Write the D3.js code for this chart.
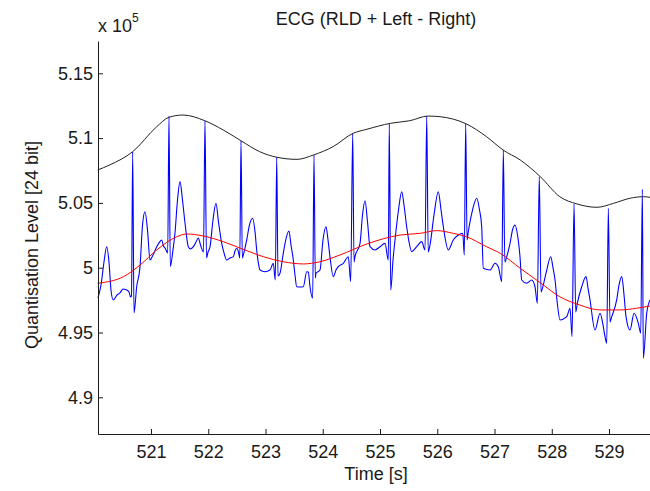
<!DOCTYPE html>
<html>
<head>
<meta charset="utf-8">
<script src="https://cdn.jsdelivr.net/npm/d3@7"></script>
<style>
  body { margin: 0; background: #fff; }
  svg text { font-family: "Liberation Sans", Arial, sans-serif; fill: #1a1a1a; }
</style>
</head>
<body>
<div id="chart"></div>
<script>
// ECG samples: [time (s), quantisation level]
const ecgSamples = [
  [520.074,497660],[520.127,498670],[520.179,500440],[520.226,501620],[520.266,500440],[520.301,498280],[520.341,497510],[520.406,497890],[520.458,498050],[520.511,498360],[520.576,498280],[520.616,498130],[520.642,497740],[520.659,497820],
  [520.680,508950],[520.703,496510],[520.750,498530],[520.808,500080],[520.852,503300],[520.895,504320],[520.939,502910],[520.983,500590],[521.035,500980],[521.100,501620],[521.140,501910],[521.187,502140],[521.218,501680],[521.245,501520],[521.292,501140],
  [521.314,511700],[521.337,500080],[521.384,501370],[521.419,502680],[521.463,505220],[521.507,506640],[521.550,505220],[521.594,503450],[521.652,501620],[521.690,501440],[521.739,501620],[521.786,501980],[521.826,502290],[521.865,501750],[521.917,501210],
  [521.943,511340],[521.969,500750],[521.996,501210],[522.031,501620],[522.083,503680],[522.135,504970],[522.179,503530],[522.235,501880],[522.275,501140],[522.322,500590],[522.380,500750],[522.438,500850],[522.467,501290],[522.497,501500],[522.528,501210],[522.551,500750],
  [522.572,509800],[522.595,500750],[522.612,500980],[522.672,502140],[522.720,503300],[522.776,503810],[522.817,502760],[522.846,501370],[522.878,500290],[522.904,499820],[522.991,499690],[523.079,499820],[523.136,500340],[523.171,499050],
  [523.196,508520],[523.218,499360],[523.253,499570],[523.306,500980],[523.341,501880],[523.410,502830],[523.445,501750],[523.486,500590],[523.515,499440],[523.545,498530],[523.603,498510],[523.660,498530],[523.720,499690],[523.748,499670],[523.777,498530],[523.824,497640],
  [523.847,508700],[523.870,499210],[523.882,499570],[523.952,499820],[524.004,502140],[524.057,503160],[524.092,502140],[524.126,500850],[524.184,499310],[524.231,499820],[524.272,500080],[524.359,500340],[524.446,500850],[524.488,498920],
  [524.523,510370],[524.546,500440],[524.563,500850],[524.651,501880],[524.694,504070],[524.738,505170],[524.782,503530],[524.825,501620],[524.913,501370],[525.000,501620],[525.087,501880],[525.145,500590],
  [525.162,511090],[525.187,498280],[525.227,500590],[525.262,502140],[525.323,504450],[525.379,505860],[525.419,504840],[525.466,503160],[525.507,501980],[525.554,501240],[525.641,501620],[525.728,502010],[525.786,501370],
  [525.816,511700],[525.842,501210],[525.873,501750],[525.943,504070],[526.018,505860],[526.066,504450],[526.106,503160],[526.193,501370],[526.280,502140],[526.368,502520],[526.445,502660],[526.472,500980],
  [526.497,511140],[526.520,502140],[526.542,502780],[526.616,504450],[526.689,505360],[526.738,504450],[526.776,503160],[526.804,499950],[526.921,499820],[527.009,500340],[527.066,500080],[527.126,498920],
  [527.154,509080],[527.180,500440],[527.213,500850],[527.271,501880],[527.314,502910],[527.358,503300],[527.402,502520],[527.445,500850],[527.475,499050],[527.562,498800],[527.650,499050],[527.707,498530],[527.748,497250],
  [527.782,507040],[527.812,498130],[527.852,498670],[527.912,499820],[527.982,500850],[528.022,499980],[528.057,499050],[528.100,497120],[528.144,495970],[528.261,496220],[528.319,496870],[528.354,494680],
  [528.389,504920],[528.418,496580],[528.446,497250],[528.523,498530],[528.598,499310],[528.633,498430],[528.668,497510],[528.755,495190],[528.843,496480],[528.895,495580],[528.930,494680],[528.960,494170],
  [528.988,504580],[529.017,495810],[529.047,496220],[529.134,497510],[529.175,498670],[529.222,499310],[529.262,497890],[529.297,496220],[529.367,495190],[529.437,496480],[529.512,495710],[529.554,494940],
  [529.582,506050],[529.599,493010],[529.658,496480],[529.716,497510]
];

// upper envelope through the R peaks (black)
const upperEnvelope = [
  [520.07,507540],[520.28,507930],[520.68,508950],[521.10,510880],[521.31,511600],[521.56,511780],[521.94,511340],[522.26,510630],
  [522.57,509800],[522.90,508950],[523.20,508520],[523.55,508360],[523.84,508700],[524.18,509340],[524.53,510370],[524.77,510680],
  [525.18,511140],[525.52,511340],[525.84,511700],[526.05,511650],[526.51,511090],[526.86,510110],[527.15,509080],[527.45,508310],
  [527.80,507020],[528.14,505480],[528.44,504920],[528.79,504660],[529.08,504970],[529.37,505360],[529.60,505480],[529.72,505430]
];

// baseline wander (red)
const baseline = [
  [520.07,498800],[520.52,499310],[520.81,500210],[521.10,501370],[521.45,502390],[521.62,502600],[521.91,502450],[522.26,502010],
  [522.61,501420],[522.96,500850],[523.31,500460],[523.66,500290],[523.95,500460],[524.30,500980],[524.77,501830],[525.35,502520],
  [525.70,502650],[525.99,502860],[526.28,502650],[526.51,502390],[526.86,501620],[527.10,501110],[527.45,499950],[527.80,498840],
  [528.14,497760],[528.49,497120],[528.84,496740],[529.19,496740],[529.48,496870],[529.72,497050]
];

const xTicks = [521, 522, 523, 524, 525, 526, 527, 528, 529];
const yTicks = [490000, 495000, 500000, 505000, 510000, 515000];
const yTickLabels = ["4.9", "4.95", "5", "5.05", "5.1", "5.15"];

const titleText = "ECG (RLD + Left - Right)";
const xLabel = "Time [s]";
const yLabel = "Quantisation Level [24 bit]";

// Setup
const svgWidth = 650;
const svgHeight = 491;
const fontSize = 18;

const svg = d3.select("#chart")
  .append("svg")
  .attr("width", svgWidth)
  .attr("height", svgHeight);

const x = d3.scaleLinear()
  .domain([520.0743, 529.803])
  .range([98, 655]);

const y = d3.scaleLinear()
  .domain([487168, 517492])
  .range([434, 41]);

const line = d3.line()
  .x(d => x(d[0]))
  .y(d => y(d[1]))
  .curve(d3.curveMonotoneX);

// ECG trace
svg.append("path")
  .datum(ecgSamples)
  .attr("fill", "none")
  .attr("stroke", "#0000ff")
  .attr("stroke-width", 1.1)
  .attr("d", line);

svg.append("path")
  .datum(upperEnvelope)
  .attr("fill", "none")
  .attr("stroke", "#222")
  .attr("stroke-width", 1)
  .attr("d", line);

svg.append("path")
  .datum(baseline)
  .attr("fill", "none")
  .attr("stroke", "#ff0000")
  .attr("stroke-width", 1)
  .attr("d", line);

// Axes, ticks pointing inwards like matlab
const xAxis = d3.axisBottom(x)
  .tickValues(xTicks)
  .tickFormat(d3.format("d"))
  .tickSizeInner(-5)
  .tickSizeOuter(0)
  .tickPadding(11);

const yAxis = d3.axisLeft(y)
  .tickValues(yTicks)
  .tickFormat((d, i) => yTickLabels[i])
  .tickSizeInner(-5)
  .tickSizeOuter(0)
  .tickPadding(5);

const gx = svg.append("g")
  .attr("transform", "translate(0,434)")
  .call(xAxis);

const gy = svg.append("g")
  .attr("transform", "translate(98,0)")
  .call(yAxis);

[gx, gy].forEach(g => {
  g.select(".domain").attr("stroke", "#1a1a1a");
  g.selectAll(".tick line").attr("stroke", "#1a1a1a");
  g.selectAll(".tick text")
    .attr("font-size", fontSize)
    .attr("font-family", "Liberation Sans, Arial, sans-serif")
    .attr("fill", "#1a1a1a");
});

// Labels
svg.append("text")
  .attr("x", 376)
  .attr("y", 25)
  .attr("text-anchor", "middle")
  .attr("font-size", fontSize)
  .text(titleText);

svg.append("text")
  .attr("x", 376)
  .attr("y", 480)
  .attr("text-anchor", "middle")
  .attr("font-size", fontSize)
  .text(xLabel);

svg.append("text")
  .attr("transform", "translate(38,245) rotate(-90)")
  .attr("text-anchor", "middle")
  .attr("font-size", fontSize)
  .text(yLabel);

// exponent label above the y axis
const expo = svg.append("text")
  .attr("x", 98)
  .attr("y", 32)
  .attr("font-size", fontSize);
expo.append("tspan").text("x 10");
expo.append("tspan")
  .attr("dy", -10)
  .attr("font-size", 12)
  .text("5");
</script>
</body>
</html>
